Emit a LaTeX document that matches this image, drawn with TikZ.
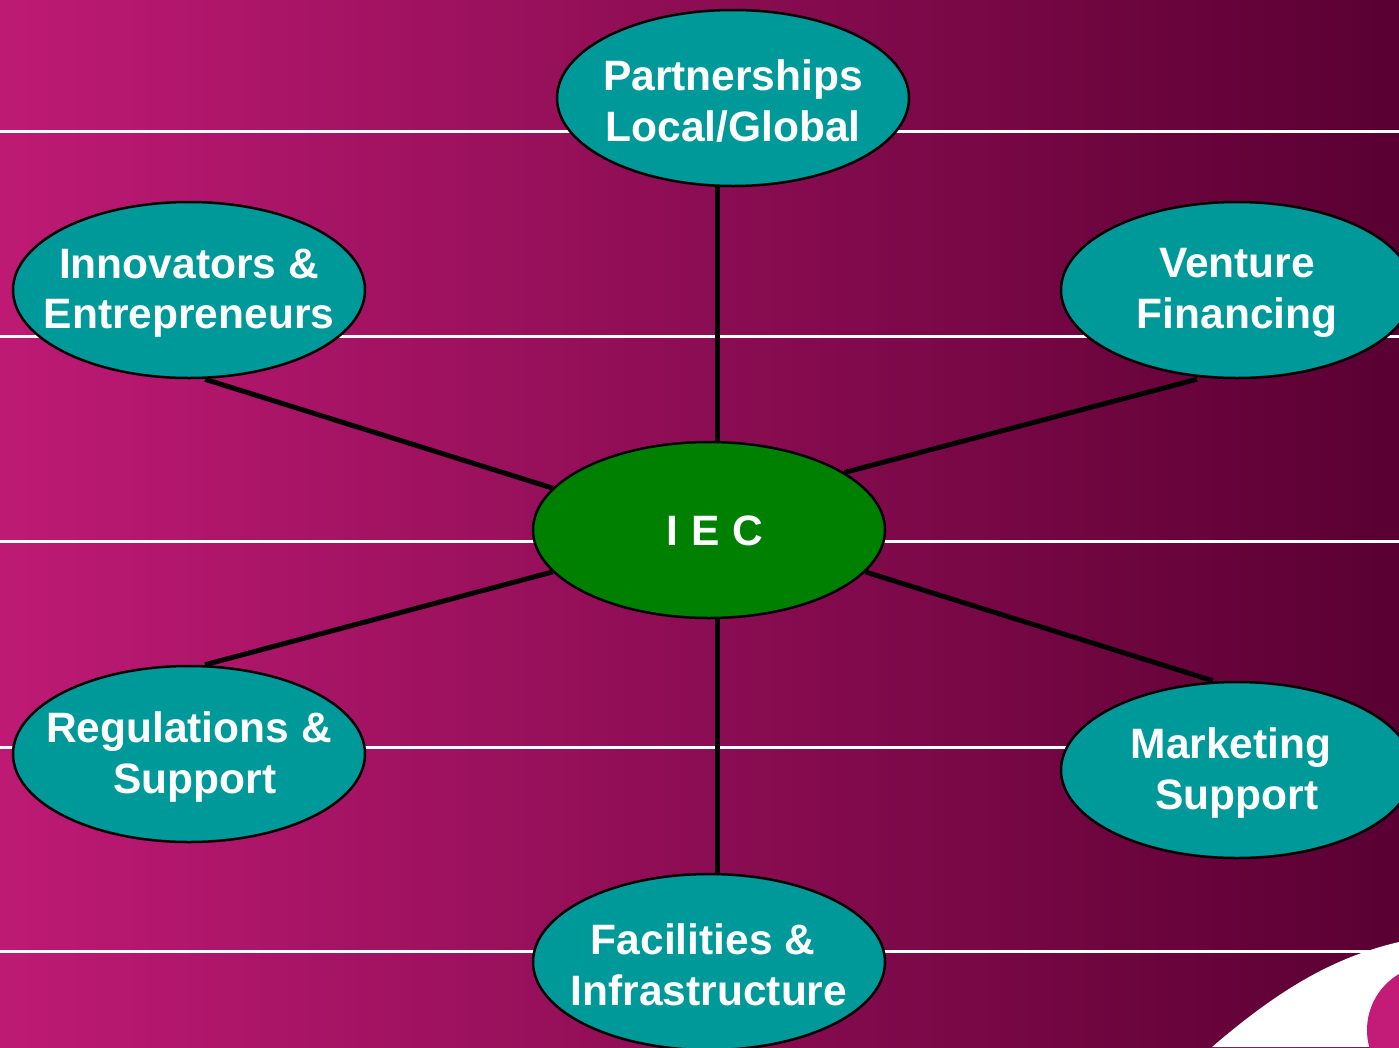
\documentclass[tikz,border=0pt]{standalone}
\usepackage{fontspec}
\setmainfont{Liberation Sans}
\usetikzlibrary{shapes.geometric}
\definecolor{magL}{HTML}{BE1A74}
\definecolor{magR}{HTML}{5A0032}
\definecolor{tealE}{HTML}{009999}
\definecolor{greenE}{HTML}{008000}
\definecolor{dotM}{HTML}{C21C78}
\tikzset{
  bubble/.style={ellipse, draw=black, line width=2.5pt, fill=tealE, minimum width=352pt, minimum height=176pt, inner sep=0pt},
  hub/.style={bubble, fill=greenE},
  lbl/.style={align=center, text=white, inner sep=0pt, font=\bfseries\fontsize{42.5}{50.5}\selectfont},
  spoke/.style={draw=black, line width=5pt},
  rule/.style={draw=white, line width=3pt}
}
\begin{document}
\begin{tikzpicture}[x=1pt,y=-1pt]
\useasboundingbox (0,0) rectangle (1399,1047);
\clip (0,0) rectangle (1399,1047);
\shade[left color=magL, right color=magR] (0,0) rectangle (1399,1047);
\foreach \yy in {131,336,541,747,951} \draw[rule] (0,\yy) -- (1399,\yy);
\fill[white] (1212,1047) .. controls (1275,993) and (1330,958) .. (1399,942) -- (1399,1047) -- cycle;
\fill[dotM] (1432,1030) circle[radius=65];
\node[bubble] (P) at (733,98) {};
\node[bubble] (I) at (189,290) {};
\node[bubble] (V) at (1237,290) {};
\node[hub] (C) at (709,530) {};
\node[bubble] (R) at (189,754) {};
\node[bubble] (M) at (1237,770) {};
\node[bubble] (F) at (709,962) {};
\node[lbl] (Pt) at ([yshift=-3pt]P) {Partnerships\\Local/Global};
\node[lbl] (It) at ([yshift=-3pt]I) {Innovators \&\\Entrepreneurs};
\node[lbl] (Vt) at ([yshift=-3pt]V) {Venture\\Financing};
\node[lbl] (Ct) at ([xshift=6pt,yshift=-1pt]C) {I\hspace{13pt}E\hspace{13pt}C};
\node[lbl] (Rt) at ([yshift=-3pt]R) {Regulations \&\\\hspace*{12pt}Support};
\node[lbl] (Mt) at ([yshift=-3pt]M) {\hspace*{-12pt}Marketing\\Support};
\node[lbl] (Ft) at ([yshift=-3pt]F) {\hspace*{-12pt}Facilities \&\\Infrastructure};
\draw[spoke] ([xshift=-16pt]P.south) -- ([xshift=8pt]C.north);
\draw[spoke] ([xshift=8pt]F.north) -- ([xshift=8pt]C.south);
\draw[spoke] ([xshift=16pt]I.south) -- (C.165);
\draw[spoke] ([xshift=-40pt]V.south) -- (C.23);
\draw[spoke] ([xshift=16pt]R.north) -- (C.195);
\draw[spoke] ([xshift=-24pt]M.north) -- (C.-15);
\end{tikzpicture}
\end{document}
